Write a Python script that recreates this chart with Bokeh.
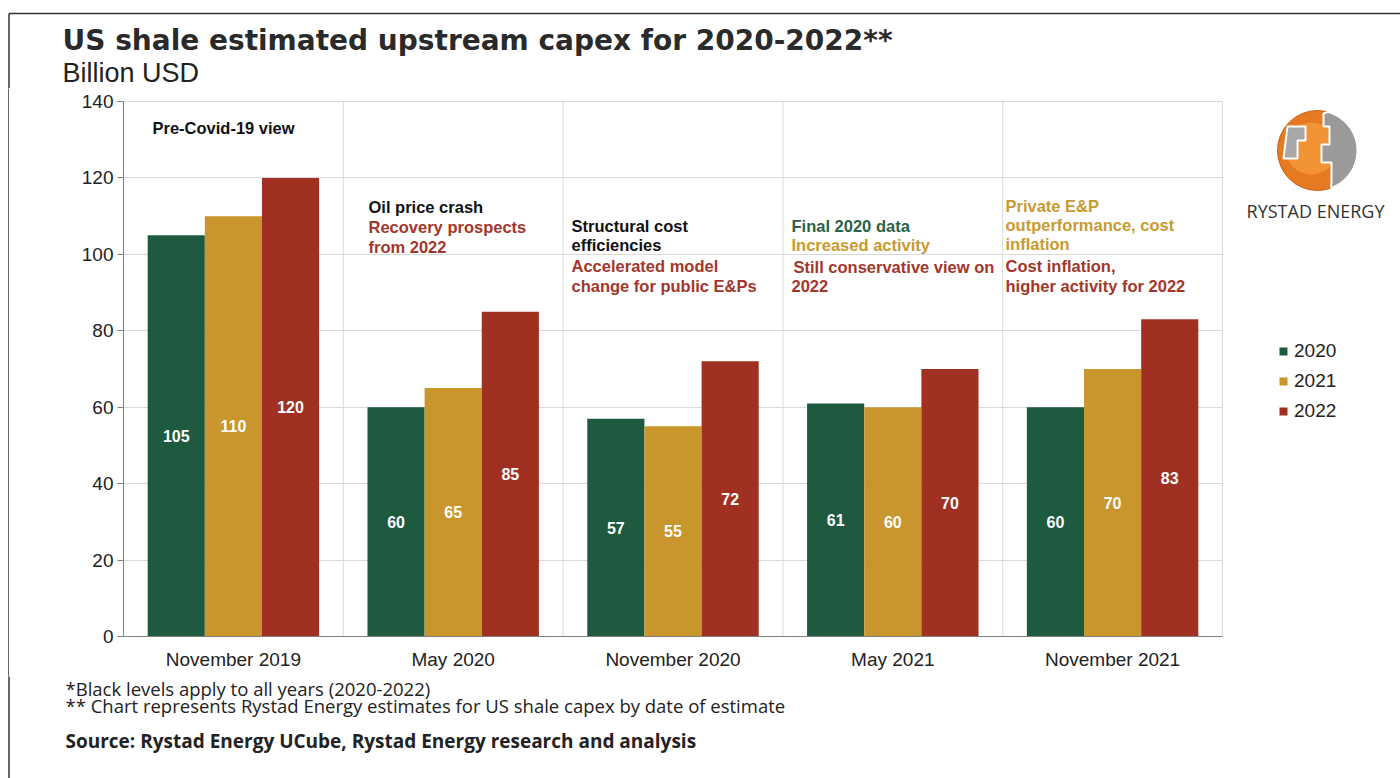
import numpy as np
from bokeh.plotting import figure
from bokeh.layouts import column, row
from bokeh.models import (ColumnDataSource, Range1d, FactorRange, Span, Legend, LegendItem,
                          FixedTicker)
from bokeh.transform import dodge
from bokeh.core.properties import value
from bokeh.embed import file_html
from bokeh.resources import INLINE

# ---------------- data ----------------
categories = ["November 2019", "May 2020", "November 2020", "May 2021", "November 2021"]
years = ["2020", "2021", "2022"]
capex_2020 = [105, 60, 57, 61, 60]
capex_2021 = [110, 65, 55, 60, 70]
capex_2022 = [120, 85, 72, 70, 83]
y_ticks = [0, 20, 40, 60, 80, 100, 120, 140]

title_text = "US shale estimated upstream capex for 2020-2022**"
subtitle_text = "Billion USD"
footnotes = ["*Black levels apply to all years (2020-2022)",
             "** Chart represents Rystad Energy  estimates for US  shale capex by date of estimate"]
source_text = "Source: Rystad Energy UCube, Rystad Energy research and analysis"

# annotation texts per estimate date (text, colour key)
notes = [
    ["Pre-Covid-19 view|k"],
    ["Oil price crash|k", "Recovery prospects|r", "from 2022|r"],
    ["Structural cost|k", "efficiencies|k", "Accelerated model|r", "change for public E&Ps|r"],
    ["Final 2020 data|g", "Increased activity|y", "Still conservative view on|r", "2022|r"],
    ["Private E&P|y", "outperformance, cost|y", "inflation|y", "Cost inflation,|r", "higher activity  for 2022|r"],
]

# ---------------- style / geometry ----------------
W, H = 1400, 778
FL, FR, FT, FB = 123, 1222, 101, 636
YMAX = 140
NCAT = len(categories)

GREEN = "#1d5a40"
GOLD = "#c8962d"
RED = "#a03022"
TXT = {"k": "#111111", "r": "#a3362b", "y": "#c99a30", "g": "#2b6148"}
AXIS = "#808080"
GRID = "#d9d9d9"
ARIAL = "Liberation Sans"
BORDER = "#333333"

HEAD_H = 88
MAIN_TOP = HEAD_H
MAIN_H = 588
FOOT_TOP = MAIN_TOP + MAIN_H
STRIP_W = 9
SIDE_X = 1228
BT = FT - MAIN_TOP                     # main top border
BB = FOOT_TOP - FB                     # main bottom border


def no_align(f):
    if "frame_align" in f.properties():
        f.frame_align = False


def canvas(w, h, x0, y0, top=0, bottom=0):
    f = figure(width=w, height=h, x_range=Range1d(x0, x0 + w),
               y_range=Range1d(y0 + h - bottom, y0 + top),
               output_backend="svg", toolbar_location=None, x_axis_location=None,
               y_axis_location=None, min_border_left=0, min_border_right=0,
               min_border_top=top, min_border_bottom=bottom)
    f.outline_line_color = None
    f.background_fill_color = "white"
    f.border_fill_color = "white"
    for r in list(f.center):
        r.visible = False
    return f


def put(f, txt, x, y, color="#222222", size="16.5px", font=ARIAL, style="bold", align="left"):
    f.text(x=[x], y=[y], text=[txt], text_color=color, text_font=value(font),
           text_font_size=size, text_font_style=style, text_align=align, text_baseline="middle")


# ---------------- header ----------------
header = canvas(W, HEAD_H, 0, 0)
header.line(x=[8.5, W + 5], y=[13, 13], line_color=BORDER, line_width=1.5)
header.line(x=[8.5, 8.5], y=[13, HEAD_H], line_color=BORDER, line_width=1.5)
put(header, title_text, 62, 40, color="#2a2a2a", size="28px", font="DejaVu Sans", style="bold")
put(header, subtitle_text, 62, 72, color="#222222", size="27px", font=ARIAL, style="normal")

# ---------------- left strip (page border) ----------------
strip = canvas(STRIP_W, MAIN_H, 0, MAIN_TOP)
no_align(strip)
strip.line(x=[8.5, 8.5], y=[MAIN_TOP - 5, FOOT_TOP + 5], line_color=BORDER, line_width=1.5)

# ---------------- main chart ----------------
main = figure(width=SIDE_X - STRIP_W, height=MAIN_H,
              x_range=FactorRange(*categories, range_padding=0), y_range=Range1d(0, YMAX),
              output_backend="svg", toolbar_location=None,
              min_border_left=FL - STRIP_W, min_border_right=SIDE_X - FR,
              min_border_top=BT, min_border_bottom=BB)
main.background_fill_color = "white"
main.border_fill_color = "white"
main.outline_line_color = GRID

src = ColumnDataSource(dict(
    cat=categories,
    y2020=capex_2020, y2021=capex_2021, y2022=capex_2022,
    m2020=[v / 2 for v in capex_2020], m2021=[v / 2 for v in capex_2021], m2022=[v / 2 for v in capex_2022],
    t2020=[str(v) for v in capex_2020], t2021=[str(v) for v in capex_2021], t2022=[str(v) for v in capex_2022],
))

offsets = [-0.26, 0.0, 0.26]
colors = [GREEN, GOLD, RED]
for yr, off, col in zip(years, offsets, colors):
    main.vbar(x=dodge("cat", off, range=main.x_range), top="y" + yr, width=0.26,
              fill_color=col, line_color=None, source=src)
    main.text(x=dodge("cat", off, range=main.x_range), y="m" + yr, text="t" + yr, source=src,
              text_color="white", text_font=value(ARIAL), text_font_style="bold",
              text_font_size="16px", text_align="center", text_baseline="middle")

main.yaxis.ticker = FixedTicker(ticks=y_ticks)
main.yaxis.axis_line_color = AXIS
main.yaxis.major_tick_line_color = AXIS
main.yaxis.major_tick_out = 6
main.yaxis.major_tick_in = 0
main.yaxis.minor_tick_line_color = None
main.yaxis.major_label_text_font = ARIAL
main.yaxis.major_label_text_font_size = "19px"
main.yaxis.major_label_text_color = "#222222"
main.yaxis.major_label_standoff = 4

main.xaxis.axis_line_color = AXIS
main.xaxis.major_tick_line_color = None
main.xaxis.minor_tick_line_color = None
main.xaxis.major_label_text_font = ARIAL
main.xaxis.major_label_text_font_size = "19px"
main.xaxis.major_label_text_color = "#222222"
main.xaxis.major_label_standoff = 6

main.ygrid.grid_line_color = GRID
main.xgrid.grid_line_color = None
for i in range(1, NCAT):
    main.add_layout(Span(location=i, dimension="height", line_color=GRID, line_width=1, level="underlay"))

# in-chart annotations (left edge / line centres in page pixels)
note_pos = [(152, [127]), (368, [206, 226, 246]), (571, [225, 244, 265, 285]),
            (791, [225, 244, 266, 285]), (1005, [205, 224, 243, 265, 285])]


def X(px):
    return (px - FL) / (FR - FL) * NCAT


def Y(py):
    return (FB - py) / (FB - FT) * YMAX


for lines, (px, ys) in zip(notes, note_pos):
    for entry, py in zip(lines, ys):
        txt, key = entry.split("|")
        dx = 2 if entry.startswith("Still") else 0
        main.text(x=[X(px + dx)], y=[Y(py)], text=[txt], text_color=TXT[key], text_font=value(ARIAL),
                  text_font_size="16.5px", text_font_style="bold", text_align="left",
                  text_baseline="middle")

# ---------------- side: logo + legend ----------------
side = canvas(W - SIDE_X, MAIN_H, SIDE_X, MAIN_TOP, top=BT, bottom=BB)
cx, cy, rr = 1317, 150, 40
side.circle(x=[cx], y=[cy], radius=rr, fill_color="#e57a22", line_color="#c95f14", line_width=1)
side.circle(x=[cx - 6], y=[cy - 2], radius=26, fill_color="#f59a3c", line_color=None, fill_alpha=0.8)
th2 = np.linspace(np.radians(-75), np.radians(70), 30)
gx = [cx + rr * np.cos(t) for t in th2] + [cx + 14, cx + 14, cx + 4, cx + 4, cx + 12, cx + 12, cx + 6, cx + 6]
gy = [cy + rr * np.sin(t) for t in th2] + [cy + 30, cy + 12, cy + 12, cy - 6, cy - 6, cy - 24, cy - 24, cy - 37]
lx = [cx - 30, cx - 12, cx - 12, cx - 20, cx - 20, cx - 34]
ly = [cy - 24, cy - 24, cy - 10, cy - 10, cy + 8, cy + 8]
side.patches(xs=[gx, lx], ys=[gy, ly], fill_color=["#9a9a9a", "#a8a8a8"], line_color="white", line_width=2)
put(side, "RYSTAD ENERGY", 1315, 210, color="#333333", size="18px", font="Open Sans", style="normal",
    align="center")

# legend swatches (off-view dummy bars carrying the series colours)
leg_r = [side.vbar(x=[0], top=[0], bottom=[0], width=1, fill_color=c, line_color=None) for c in colors]
legend = Legend(items=[LegendItem(label=yr, renderers=[r]) for yr, r in zip(years, leg_r)],
                location=(1278 - SIDE_X, 214), padding=0, margin=0, spacing=8,
                label_height=20, glyph_height=10, glyph_width=10, label_standoff=6,
                border_line_color=None, background_fill_alpha=0,
                label_text_font=ARIAL, label_text_font_size="19px", label_text_color="#222222")
side.add_layout(legend)

# ---------------- footer ----------------
footer = canvas(W, H - FOOT_TOP, 0, FOOT_TOP)
footer.line(x=[8.5, 8.5], y=[FOOT_TOP - 5, H + 5], line_color=BORDER, line_width=1.5)
put(footer, footnotes[0], 65, 688, color="#222222", size="18.5px", font="Open Sans", style="normal")
put(footer, footnotes[1], 65, 705, color="#222222", size="18.5px", font="Open Sans", style="normal")
put(footer, source_text, 65, 740, color="#222222", size="19px", font="Open Sans", style="bold")

root = column(header, row(strip, main, side), footer)
open("out.html", "w").write(file_html(root, INLINE))
